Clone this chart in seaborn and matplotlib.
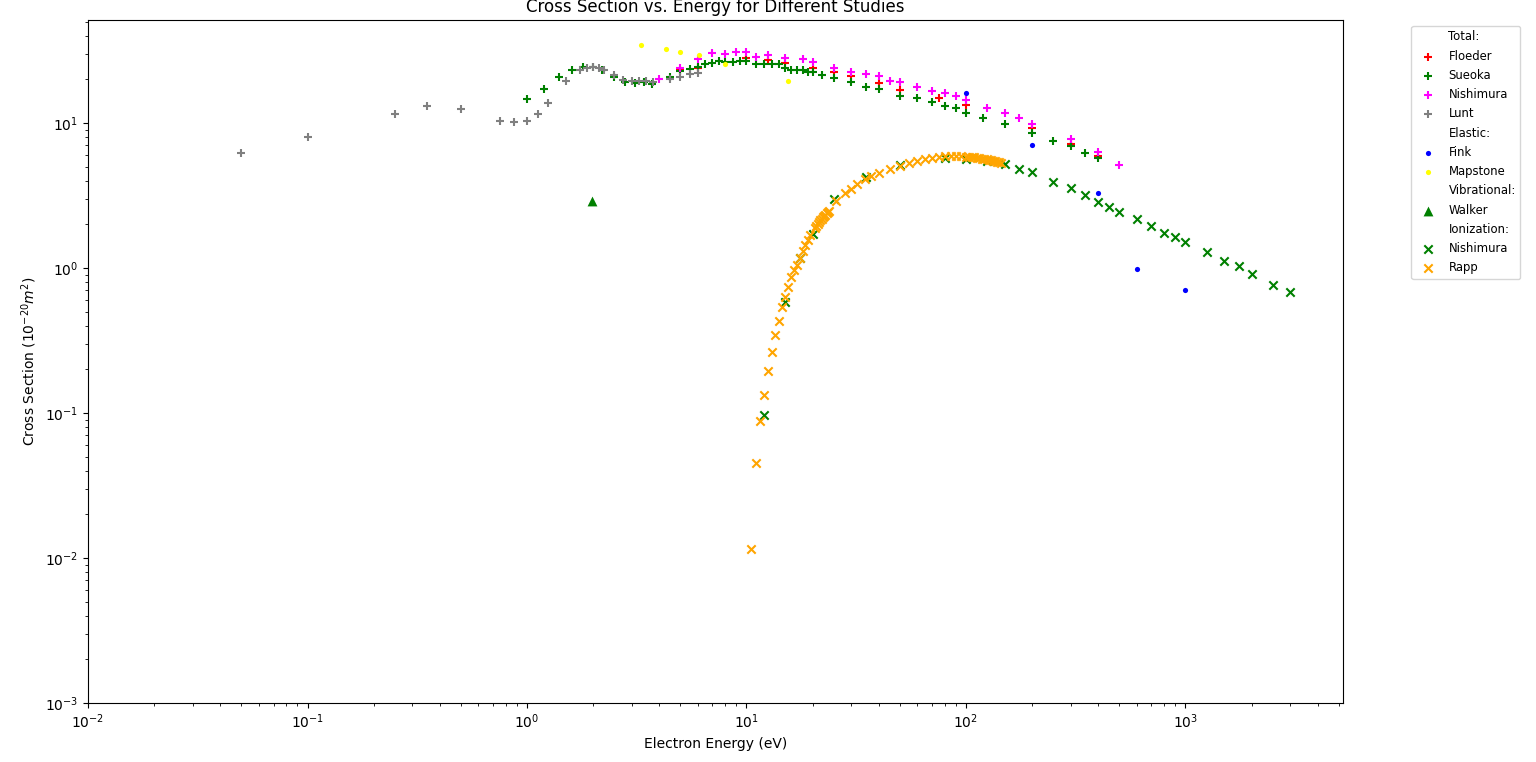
import numpy as np
import pandas as pd
import matplotlib
matplotlib.use("Agg")
import matplotlib.pyplot as plt
import seaborn as sns

# ---- total cross sections ----
floeder_e = [5, 6, 10, 12.5, 15, 20, 25, 30, 40, 50, 75, 100, 200, 300, 400]
floeder_cs = [23.0, 24.1, 27.9, 27.0, 25.8, 24.1, 22.6, 21.2, 18.8, 16.9, 14.8, 13.2, 9.19, 7.17, 5.92]

sueoka_e = [1.0, 1.2, 1.4, 1.6, 1.8, 2.0, 2.2, 2.5, 2.8, 3.1, 3.4, 3.7, 4.5, 5.0, 5.5,
            6.0, 6.5, 7.0, 7.5, 8.0, 8.7, 9.3, 10, 11, 12, 13, 14, 15, 16, 17, 18, 19,
            20, 22, 25, 30, 35, 40, 50, 60, 70, 80, 90, 100, 120, 150, 200, 250, 300,
            350, 400]
sueoka_cs = [14.6, 17.2, 20.9, 23.2, 24.4, 24.2, 23.2, 20.9, 19.1, 18.8, 19.1, 18.5, 20.9,
             22.8, 23.5, 24.4, 25.4, 26.0, 26.8, 26.5, 26.5, 26.8, 26.8, 25.6, 25.6, 25.6,
             25.4, 24.1, 23.2, 23.2, 23.2, 22.4, 22.4, 21.5, 20.4, 19.3, 17.8, 17.2, 15.3,
             14.8, 14.0, 13.1, 12.7, 11.8, 10.85, 9.85, 8.57, 7.5, 6.93, 6.24, 5.7]

nishimura_e = [4, 5, 6, 7, 8, 9, 10, 11, 12.5, 15, 18, 20, 25, 30, 35, 40, 45, 50, 60,
               70, 80, 90, 100, 125, 150, 175, 200, 300, 400, 500]
nishimura_cs = [20.0, 23.8, 27.5, 30.3, 30.1, 30.8, 31.0, 28.7, 29.5, 28.1, 27.8, 26.5,
                23.8, 22.4, 21.9, 21.0, 19.6, 19.1, 17.8, 16.7, 16.0, 15.4, 14.4, 12.7,
                11.67, 10.8, 9.8, 7.7, 6.35, 5.13]

lunt_e = [0.05, 0.1, 0.25, 0.35, 0.5, 0.75, 0.87, 1.0, 1.12, 1.25, 1.5, 1.75, 1.87, 2.0,
          2.12, 2.25, 2.5, 2.75, 3.0, 3.25, 3.5, 3.75, 4.5, 5.0, 5.5, 6.0]
lunt_cs = [6.2, 8.0, 11.5, 13.1, 12.5, 10.3, 10.2, 10.3, 11.5, 13.7, 19.5, 23.0, 24.1,
           24.3, 24.1, 23.0, 21.3, 19.8, 19.5, 19.5, 19.5, 19.3, 20.0, 20.9, 21.7, 22.2]

# ---- elastic ----
fink_e = [100, 200, 400, 600, 1000]
fink_cs = [16.0, 7.1, 3.27, 0.98, 0.70]

mapstone_e = [3.3, 4.3, 5.0, 6.1, 8.0, 15.5]
mapstone_cs = [34.3, 32.2, 30.8, 29.2, 25.4, 19.4]

# ---- vibrational ----
walker_e = [1.97]
walker_cs = [2.9]

# ---- ionization ----
nish_ion_e = [12, 15, 17.5, 20, 25, 35, 50, 80, 100, 125, 150, 175, 200, 250, 300, 350,
              400, 450, 500, 600, 700, 800, 900, 1000, 1250, 1500, 1750, 2000, 2500, 3000]
nish_ion_cs = [0.097, 0.58, 1.17, 1.71, 2.97, 4.22, 5.13, 5.7, 5.6, 5.5, 5.2, 4.79, 4.57,
               3.9, 3.55, 3.19, 2.84, 2.62, 2.45, 2.17, 1.95, 1.73, 1.63, 1.50, 1.28, 1.12,
               1.03, 0.905, 0.764, 0.68]

rapp_e = [10.5, 11.0, 11.5, 12.0, 12.5, 13.0, 13.5, 14.0, 14.5, 15.0, 15.5, 16.0, 16.5,
          17.0, 17.5, 18.0, 18.5, 19.0, 19.5, 20.5, 20.8, 21.1, 21.4, 21.7, 22.0, 22.3,
          22.6, 22.9, 23.2, 23.5, 23.8, 25.5, 28, 30, 32, 34.5, 37, 40, 45, 50, 55, 60,
          65, 70, 75, 80, 85, 90, 95, 100, 103, 106, 109, 112, 115, 118, 121, 124, 127,
          130, 133, 136, 139, 142, 145]
rapp_cs = [0.0115, 0.045, 0.088, 0.134, 0.195, 0.262, 0.345, 0.43, 0.535, 0.634, 0.736,
           0.863, 0.97, 1.05, 1.17, 1.30, 1.44, 1.56, 1.68, 1.90, 1.96, 2.02, 2.08, 2.13,
           2.18, 2.23, 2.28, 2.33, 2.38, 2.43, 2.48, 2.90, 3.27, 3.49, 3.80, 4.08, 4.31,
           4.50, 4.80, 5.08, 5.30, 5.48, 5.62, 5.75, 5.82, 5.87, 5.90, 5.90, 5.88, 5.85,
           5.83, 5.80, 5.78, 5.76, 5.72, 5.68, 5.65, 5.62, 5.58, 5.54, 5.50, 5.45, 5.40,
           5.35, 5.28]

fig = plt.figure(figsize=(15.36, 7.62), dpi=100)
ax = fig.add_axes([0.0573, 0.0774, 0.8170, 0.8964])

handles = []


def heading(text):
    h, = ax.plot([], [], linestyle="none", marker="", label=text)
    handles.append(h)


def series(x, y, label, color, marker, s=36, lw=1.5):
    kw = dict(marker=marker, color=color, s=s, linewidth=lw, label=label, ax=ax)
    if marker in ("o", "^", "."):
        kw["edgecolor"] = color
        kw["linewidth"] = 0
    sns.scatterplot(x=x, y=y, **kw)
    handles.append(ax.collections[-1])


heading("Total:")
series(floeder_e, floeder_cs, "Floeder", "red", "+")
series(sueoka_e, sueoka_cs, "Sueoka", "green", "+")
series(nishimura_e, nishimura_cs, "Nishimura", "magenta", "+")
series(lunt_e, lunt_cs, "Lunt", "gray", "+")
heading("Elastic:")
series(fink_e, fink_cs, "Fink", "blue", "o", s=14)
series(mapstone_e, mapstone_cs, "Mapstone", "yellow", "o", s=14)
heading("Vibrational:")
series(walker_e, walker_cs, "Walker", "green", "^", s=50)
heading("Ionization:")
series(nish_ion_e, nish_ion_cs, "Nishimura", "green", "x")
series(rapp_e, rapp_cs, "Rapp", "orange", "x")

ax.set_xscale("log")
ax.set_yscale("log")
ax.set_xlim(1e-2, 5215)
ax.set_ylim(1e-3, 51.3)
ax.set_title("Cross Section vs. Energy for Different Studies")
ax.set_xlabel("Electron Energy (eV)")
ax.set_ylabel(r"Cross Section ($10^{-20} m^2$)")
ax.legend(handles=handles, labels=[h.get_label() for h in handles],
          bbox_to_anchor=(1.05, 1), loc="upper left", fontsize="small",
          labelspacing=0.54)

fig.savefig("out.png", dpi=100)
